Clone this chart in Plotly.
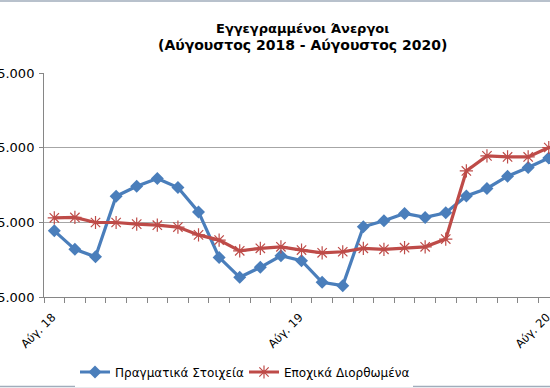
import plotly.graph_objects as go

months = ["Αύγ. 18", "Σεπ. 18", "Οκτ. 18", "Νοέ. 18", "Δεκ. 18", "Ιαν. 19", "Φεβ. 19",
          "Μαρ. 19", "Απρ. 19", "Μαΐ. 19", "Ιούν. 19", "Ιούλ. 19", "Αύγ. 19", "Σεπ. 19",
          "Οκτ. 19", "Νοέ. 19", "Δεκ. 19", "Ιαν. 20", "Φεβ. 20", "Μαρ. 20", "Απρ. 20",
          "Μαΐ. 20", "Ιούν. 20", "Ιούλ. 20", "Αύγ. 20"]

actual = [969300, 956900, 951900, 992500, 999200, 1004300, 998300, 982000, 951500,
          938200, 944900, 952600, 949300, 934800, 932600, 972000, 976000, 980900,
          978300, 981400, 992700, 997700, 1005900, 1011700, 1018100]

seasonal = [978000, 978300, 974900, 974900, 973800, 973100, 971800, 966600, 963100,
            955900, 957600, 958600, 956400, 954600, 955300, 957600, 956900, 958000,
            958600, 963800, 1009400, 1019500, 1018800, 1018800, 1025100]

y_ticks = [925000, 975000, 1025000, 1075000]
y_tick_labels = ["925.000", "975.000", "1.025.000", "1.075.000"]
x_label_idx = [0, 12, 24]

title_lines = ["Εγγεγραμμένοι Άνεργοι", "(Αύγουστος 2018 - Αύγουστος 2020)"]

xs = list(range(len(months)))

fig = go.Figure()
fig.add_trace(go.Scatter(
    x=xs, y=actual, name="Πραγματικά Στοιχεία", mode="lines+markers",
    line=dict(color="#4A7EBB", width=3.2),
    marker=dict(symbol="diamond", size=10, color="#4A7EBB"),
    text=months, hovertemplate="%{text}: %{y}<extra></extra>", cliponaxis=False))
fig.add_trace(go.Scatter(
    x=xs, y=seasonal, name="Εποχικά Διορθωμένα", mode="lines+markers",
    line=dict(color="#BE4B48", width=3.2),
    marker=dict(symbol="asterisk-open", size=11, color="#BE4B48",
                line=dict(color="#BE4B48", width=1.2)),
    text=months, hovertemplate="%{text}: %{y}<extra></extra>", cliponaxis=False))

PT, PB = 73, 297
PH = PB - PT
def ypix(y):
    return (PB - y) / PH

fig.update_layout(
    width=550, height=388,
    margin=dict(l=44, r=0, t=PT, b=388 - PB, autoexpand=False),
    paper_bgcolor="white", plot_bgcolor="white",
    font=dict(family="DejaVu Sans", size=12, color="black"),
    showlegend=True,
    legend=dict(orientation="h", xref="container", x=75/550, xanchor="left",
                yref="container", y=1 - 372/388, yanchor="middle",
                font=dict(size=12), itemwidth=30, entrywidth=124,
                entrywidthmode="pixels", borderwidth=0),
    annotations=[
        dict(text="<b>%s</b>" % title_lines[0], xref="paper", yref="paper",
             x=(302 - 44) / 506, y=ypix(28.7), xanchor="center", yanchor="middle",
             showarrow=False, font=dict(family="DejaVu Sans", size=13, color="black")),
        dict(text="<b>%s</b>" % title_lines[1], xref="paper", yref="paper",
             x=(302 - 44) / 506, y=ypix(45), xanchor="center", yanchor="middle",
             showarrow=False, font=dict(family="DejaVu Sans", size=14, color="black")),
    ],
    shapes=[
        dict(type="line", xref="paper", yref="paper", x0=-0.2, x1=1.2,
             y0=ypix(1), y1=ypix(1), line=dict(color="#A0ADBB", width=1.5)),
        dict(type="line", xref="paper", yref="paper", x0=-0.2, x1=1.2,
             y0=ypix(386.5), y1=ypix(386.5), line=dict(color="#A0ADBB", width=1.5)),
    ],
)
fig.update_xaxes(
    range=[-0.5, 24.06], tickmode="array", tickvals=x_label_idx,
    ticktext=[months[i] for i in x_label_idx], tickangle=-45, ticks="",
    ticklabelshift=-2, ticklabelstandoff=8, ticklabeloverflow="allow",
    showgrid=False, zeroline=False, showline=True, linecolor="#868686", linewidth=1,
    minor=dict(tick0=-0.5, dtick=1, ticks="outside", ticklen=5, tickcolor="#868686",
               showgrid=False),
    tickfont=dict(size=11.5), automargin=False)
fig.update_yaxes(
    range=[925000, 1075000], tickmode="array", tickvals=y_ticks, ticktext=y_tick_labels,
    ticks="outside", ticklen=4, tickcolor="#868686", ticklabelstandoff=2,
    ticklabeloverflow="allow",
    showgrid=True, gridcolor="#A6A6A6", gridwidth=1, zeroline=False,
    showline=True, linecolor="#868686", linewidth=1, tickfont=dict(size=13),
    automargin=False)

fig.write_html("out.html", config={"displayModeBar": False},
               post_script="document.body.style.margin='0';document.body.style.overflow='hidden';")
